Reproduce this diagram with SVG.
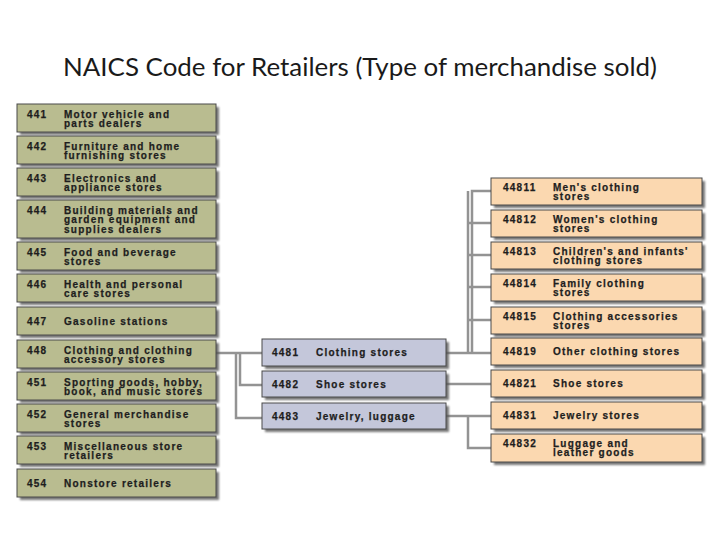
<svg xmlns="http://www.w3.org/2000/svg" width="720" height="540" viewBox="0 0 720 540">
<defs>
<filter id="sh" x="-10%" y="-20%" width="120%" height="160%"><feGaussianBlur stdDeviation="0.8"/></filter>
</defs>
<style>
.title{font-family:"Lato","Open Sans","Liberation Sans",sans-serif;font-size:25px;fill:#1a1a1a}
.t{font-family:"Liberation Sans","DejaVu Sans",sans-serif;font-weight:bold;font-size:10px;letter-spacing:1.25px;fill:#1e1e1e;stroke:#1e1e1e;stroke-width:0.25px}
.shadow{fill:#555555;opacity:0.8;filter:url(#sh)}
.box{stroke:#4a4a4a;stroke-width:1}
.naics3 .box{fill:#b9bc90}
.naics4 .box{fill:#c4c7da}
.naics5 .box{fill:#fbd8b0}
.conn path{fill:none;stroke:#939393;stroke-width:2.5}
</style>
<rect width="720" height="540" fill="#ffffff"/>
<text class="title" x="360" y="76" text-anchor="middle" textLength="594" lengthAdjust="spacingAndGlyphs">NAICS Code for Retailers (Type of merchandise sold)</text>

<g id="connectors" class="conn">
<path d="M216,353 H262"/>
<path d="M236,353 V418 H262"/>
<path d="M240,353 V385 H262"/>
<path d="M446,353 H491"/>
<path d="M472,353 V191 H491"/>
<path d="M468,353 V191"/>
<path d="M468,223 H491"/>
<path d="M468,255 H491"/>
<path d="M468,287 H491"/>
<path d="M468,320 H491"/>
<path d="M446,384 H491"/>
<path d="M446,416 H491"/>
<path d="M468,416 V448 H491"/>
</g>

<g id="n441" class="naics3"><rect class="shadow" x="20" y="107" width="199" height="28"/><rect class="box" x="17" y="104" width="199" height="28"/><text class="t" x="27" y="117.5">441</text><text class="t" x="64" y="117.5">Motor vehicle and</text><text class="t" x="64" y="127">parts dealers</text></g>
<g id="n442" class="naics3"><rect class="shadow" x="20" y="139" width="199" height="28"/><rect class="box" x="17" y="136" width="199" height="28"/><text class="t" x="27" y="149.5">442</text><text class="t" x="64" y="149.5">Furniture and home</text><text class="t" x="64" y="159">furnishing stores</text></g>
<g id="n443" class="naics3"><rect class="shadow" x="20" y="171" width="199" height="28"/><rect class="box" x="17" y="168" width="199" height="28"/><text class="t" x="27" y="181.5">443</text><text class="t" x="64" y="181.5">Electronics and</text><text class="t" x="64" y="191">appliance stores</text></g>
<g id="n444" class="naics3"><rect class="shadow" x="20" y="203" width="199" height="38"/><rect class="box" x="17" y="200" width="199" height="38"/><text class="t" x="27" y="213.5">444</text><text class="t" x="64" y="213.5">Building materials and</text><text class="t" x="64" y="223">garden equipment and</text><text class="t" x="64" y="232.5">supplies dealers</text></g>
<g id="n445" class="naics3"><rect class="shadow" x="20" y="245" width="199" height="28"/><rect class="box" x="17" y="242" width="199" height="28"/><text class="t" x="27" y="255.5">445</text><text class="t" x="64" y="255.5">Food and beverage</text><text class="t" x="64" y="265">stores</text></g>
<g id="n446" class="naics3"><rect class="shadow" x="20" y="277" width="199" height="28"/><rect class="box" x="17" y="274" width="199" height="28"/><text class="t" x="27" y="287.5">446</text><text class="t" x="64" y="287.5">Health and personal</text><text class="t" x="64" y="297">care stores</text></g>
<g id="n447" class="naics3"><rect class="shadow" x="20" y="310" width="199" height="28"/><rect class="box" x="17" y="307" width="199" height="28"/><text class="t" x="27" y="324.5">447</text><text class="t" x="64" y="324.5">Gasoline stations</text></g>
<g id="n448" class="naics3"><rect class="shadow" x="20" y="343" width="199" height="28"/><rect class="box" x="17" y="340" width="199" height="28"/><text class="t" x="27" y="353.5">448</text><text class="t" x="64" y="353.5">Clothing and clothing</text><text class="t" x="64" y="363">accessory stores</text></g>
<g id="n451" class="naics3"><rect class="shadow" x="20" y="375" width="199" height="28"/><rect class="box" x="17" y="372" width="199" height="28"/><text class="t" x="27" y="385.5">451</text><text class="t" x="64" y="385.5">Sporting goods, hobby,</text><text class="t" x="64" y="395">book, and music stores</text></g>
<g id="n452" class="naics3"><rect class="shadow" x="20" y="407" width="199" height="28"/><rect class="box" x="17" y="404" width="199" height="28"/><text class="t" x="27" y="417.5">452</text><text class="t" x="64" y="417.5">General merchandise</text><text class="t" x="64" y="427">stores</text></g>
<g id="n453" class="naics3"><rect class="shadow" x="20" y="439" width="199" height="28"/><rect class="box" x="17" y="436" width="199" height="28"/><text class="t" x="27" y="449.5">453</text><text class="t" x="64" y="449.5">Miscellaneous store</text><text class="t" x="64" y="459">retailers</text></g>
<g id="n454" class="naics3"><rect class="shadow" x="20" y="472" width="199" height="28"/><rect class="box" x="17" y="469" width="199" height="28"/><text class="t" x="27" y="486.5">454</text><text class="t" x="64" y="486.5">Nonstore retailers</text></g>

<g id="n4481" class="naics4"><rect class="shadow" x="265" y="342" width="184" height="27"/><rect class="box" x="262" y="339" width="184" height="27"/><text class="t" x="272" y="356">4481</text><text class="t" x="316" y="356">Clothing stores</text></g>
<g id="n4482" class="naics4"><rect class="shadow" x="265" y="374" width="184" height="26"/><rect class="box" x="262" y="371" width="184" height="26"/><text class="t" x="272" y="387.5">4482</text><text class="t" x="316" y="387.5">Shoe stores</text></g>
<g id="n4483" class="naics4"><rect class="shadow" x="265" y="406" width="184" height="26"/><rect class="box" x="262" y="403" width="184" height="26"/><text class="t" x="272" y="419.5">4483</text><text class="t" x="316" y="419.5">Jewelry, luggage</text></g>

<g id="n44811" class="naics5"><rect class="shadow" x="494" y="181" width="211" height="27"/><rect class="box" x="491" y="178" width="211" height="27"/><text class="t" x="503" y="190.5">44811</text><text class="t" x="553" y="190.5">Men's clothing</text><text class="t" x="553" y="200">stores</text></g>
<g id="n44812" class="naics5"><rect class="shadow" x="494" y="213" width="211" height="27"/><rect class="box" x="491" y="210" width="211" height="27"/><text class="t" x="503" y="222.5">44812</text><text class="t" x="553" y="222.5">Women's clothing</text><text class="t" x="553" y="232">stores</text></g>
<g id="n44813" class="naics5"><rect class="shadow" x="494" y="245" width="211" height="27"/><rect class="box" x="491" y="242" width="211" height="27"/><text class="t" x="503" y="254.5">44813</text><text class="t" x="553" y="254.5">Children's and infants'</text><text class="t" x="553" y="264">clothing stores</text></g>
<g id="n44814" class="naics5"><rect class="shadow" x="494" y="277" width="211" height="27"/><rect class="box" x="491" y="274" width="211" height="27"/><text class="t" x="503" y="286.5">44814</text><text class="t" x="553" y="286.5">Family clothing</text><text class="t" x="553" y="296">stores</text></g>
<g id="n44815" class="naics5"><rect class="shadow" x="494" y="310" width="211" height="27"/><rect class="box" x="491" y="307" width="211" height="27"/><text class="t" x="503" y="319.5">44815</text><text class="t" x="553" y="319.5">Clothing accessories</text><text class="t" x="553" y="329">stores</text></g>
<g id="n44819" class="naics5"><rect class="shadow" x="494" y="341" width="211" height="27"/><rect class="box" x="491" y="338" width="211" height="27"/><text class="t" x="503" y="355">44819</text><text class="t" x="553" y="355">Other clothing stores</text></g>
<g id="n44821" class="naics5"><rect class="shadow" x="494" y="373" width="211" height="27"/><rect class="box" x="491" y="370" width="211" height="27"/><text class="t" x="503" y="387">44821</text><text class="t" x="553" y="387">Shoe stores</text></g>
<g id="n44831" class="naics5"><rect class="shadow" x="494" y="405" width="211" height="27"/><rect class="box" x="491" y="402" width="211" height="27"/><text class="t" x="503" y="419">44831</text><text class="t" x="553" y="419">Jewelry stores</text></g>
<g id="n44832" class="naics5"><rect class="shadow" x="494" y="437" width="211" height="28"/><rect class="box" x="491" y="434" width="211" height="28"/><text class="t" x="503" y="446.5">44832</text><text class="t" x="553" y="446.5">Luggage and</text><text class="t" x="553" y="456">leather goods</text></g>
</svg>
